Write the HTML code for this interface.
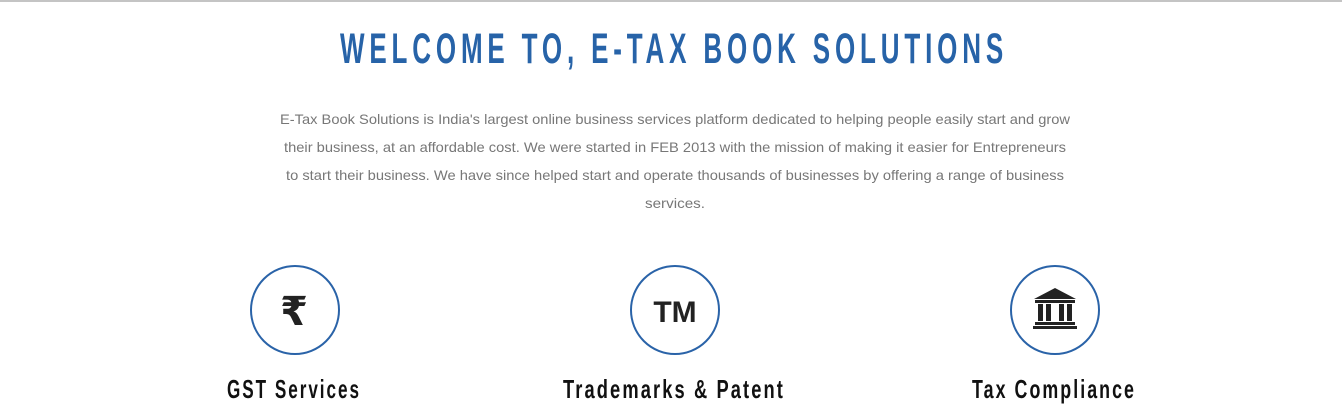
<!DOCTYPE html>
<html><head><meta charset="utf-8"><style>
html,body{margin:0;padding:0;background:#fff;width:1342px;height:416px;overflow:hidden}
svg{display:block}
</style></head><body>
<svg width="1342" height="416" xmlns="http://www.w3.org/2000/svg">
<rect x="0" y="0" width="1342" height="2" fill="#c4c4c4"/>
<text x="340" y="63" textLength="668" lengthAdjust="spacingAndGlyphs" letter-spacing="8" font-family="Liberation Sans, sans-serif" font-weight="bold" font-size="43" fill="#2763a8">WELCOME TO, E-TAX BOOK SOLUTIONS</text>
<g font-family="Liberation Sans, sans-serif" font-size="14" fill="#777" text-anchor="middle">
<text x="675" y="124" textLength="790" lengthAdjust="spacingAndGlyphs">E-Tax Book Solutions is India's largest online business services platform dedicated to helping people easily start and grow</text>
<text x="675" y="152" textLength="782" lengthAdjust="spacingAndGlyphs">their business, at an affordable cost. We were started in FEB 2013 with the mission of making it easier for Entrepreneurs</text>
<text x="675" y="180" textLength="778" lengthAdjust="spacingAndGlyphs">to start their business. We have since helped start and operate thousands of businesses by offering a range of business</text>
<text x="675" y="208" textLength="60" lengthAdjust="spacingAndGlyphs">services.</text>
</g>
<g>
<circle cx="295" cy="310" r="44" fill="none" stroke="#2a63a8" stroke-width="2"/>
<text x="294" y="325" text-anchor="middle" font-family="DejaVu Sans, sans-serif" font-weight="bold" font-size="40" fill="#222">₹</text>
<text x="227" y="398" textLength="134" lengthAdjust="spacingAndGlyphs" letter-spacing="3" font-family="Liberation Sans, sans-serif" font-weight="bold" font-size="26" fill="#111">GST Services</text>
</g>
<g>
<circle cx="675" cy="310" r="44" fill="none" stroke="#2a63a8" stroke-width="2"/>
<text x="675" y="322" text-anchor="middle" font-family="Liberation Sans, sans-serif" font-weight="bold" font-size="30" fill="#222">TM</text>
<text x="563" y="398" textLength="222" lengthAdjust="spacingAndGlyphs" letter-spacing="3" font-family="Liberation Sans, sans-serif" font-weight="bold" font-size="26" fill="#111">Trademarks &amp; Patent</text>
</g>
<g>
<circle cx="1055" cy="310" r="44" fill="none" stroke="#2a63a8" stroke-width="2"/>
<g fill="#222">
<polygon points="1055,288 1034,299 1076,299"/>
<rect x="1035" y="300" width="40" height="3"/>
<rect x="1038" y="304" width="5" height="17"/>
<rect x="1046" y="304" width="5" height="17"/>
<rect x="1059" y="304" width="5" height="17"/>
<rect x="1067" y="304" width="5" height="17"/>
<rect x="1035" y="322" width="40" height="3"/>
<rect x="1033" y="326" width="44" height="3"/>
</g>
<text x="972" y="398" textLength="164" lengthAdjust="spacingAndGlyphs" letter-spacing="3" font-family="Liberation Sans, sans-serif" font-weight="bold" font-size="26" fill="#111">Tax Compliance</text>
</g>
</svg>
</body></html>
